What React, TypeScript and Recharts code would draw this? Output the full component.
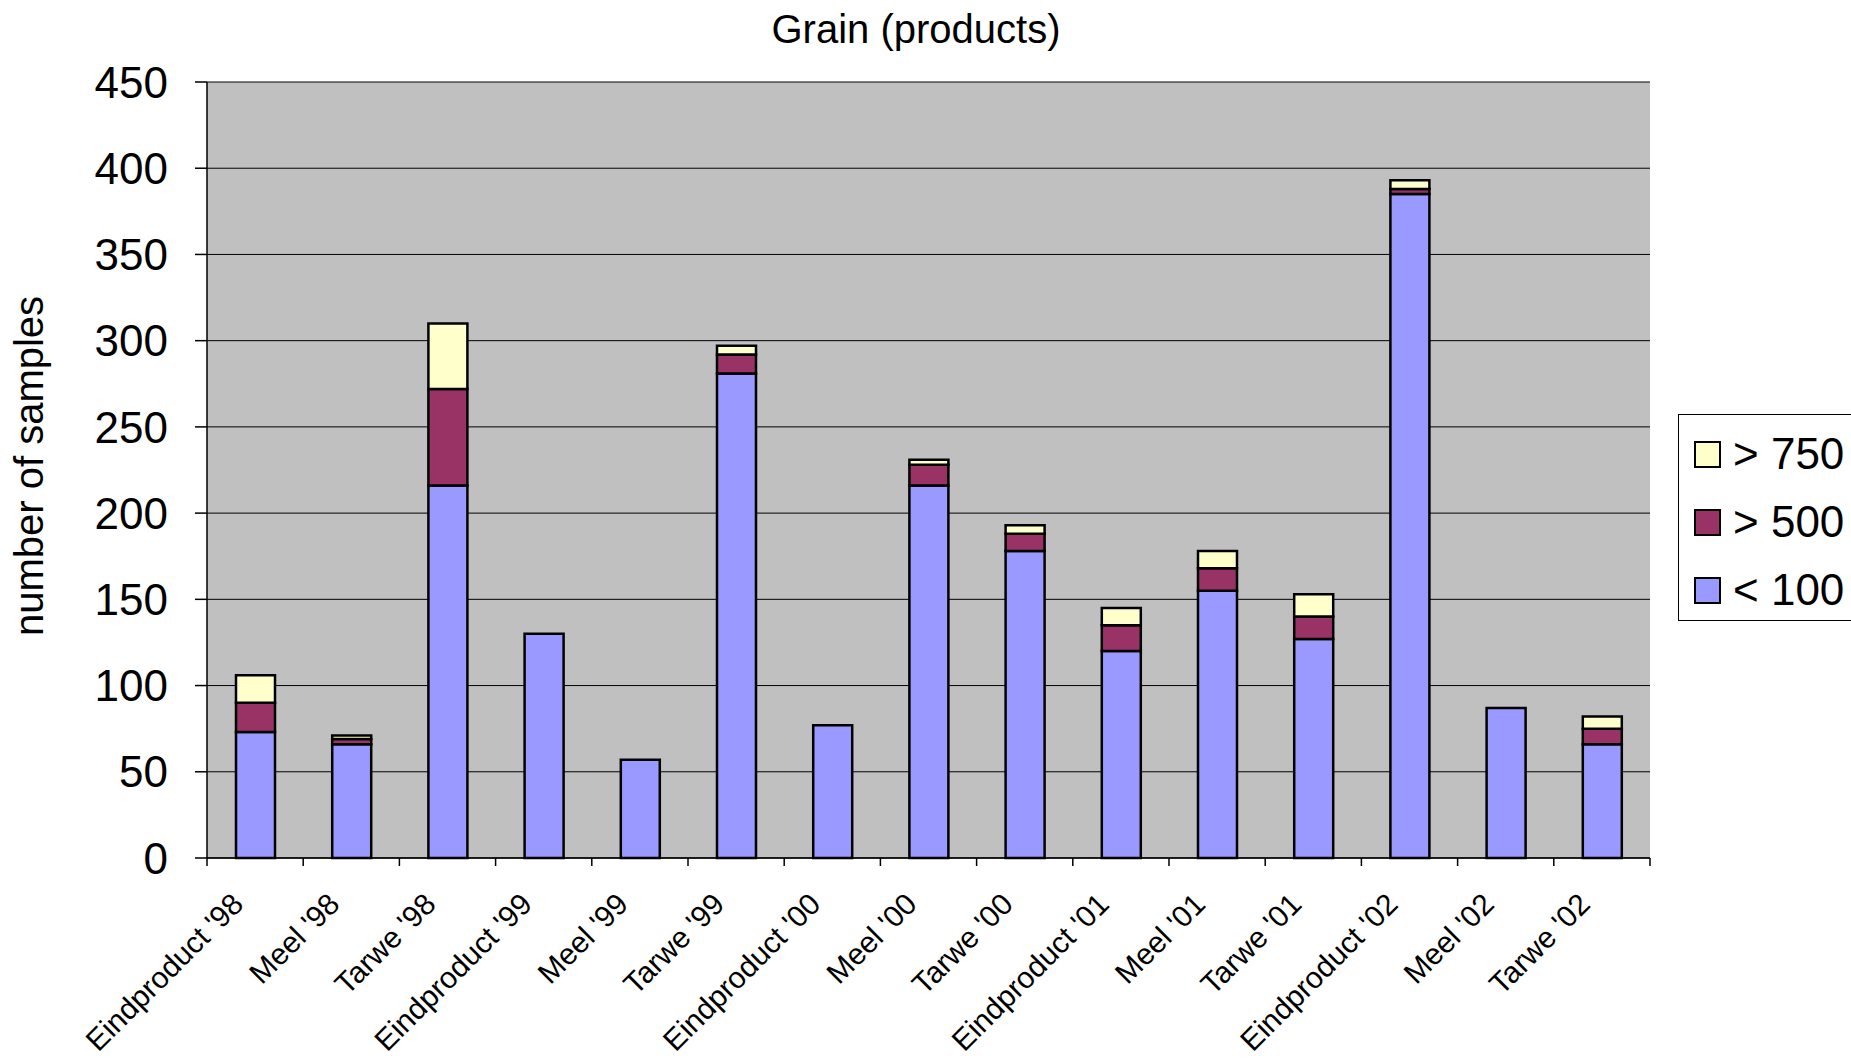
import React from 'react'
import { BarChart, Bar, XAxis, YAxis, CartesianGrid, Legend } from 'recharts'

// Grain (products): samples per product/year, stacked by class
const categories = [
  "Eindproduct '98", "Meel '98", "Tarwe '98",
  "Eindproduct '99", "Meel '99", "Tarwe '99",
  "Eindproduct '00", "Meel '00", "Tarwe '00",
  "Eindproduct '01", "Meel '01", "Tarwe '01",
  "Eindproduct '02", "Meel '02", "Tarwe '02",
]
const below100 = [73, 66, 216, 130, 57, 281, 77, 216, 178, 120, 155, 127, 385, 87, 66]
const above500 = [17, 3, 56, 0, 0, 11, 0, 12, 10, 15, 13, 13, 3, 0, 9]
const above750 = [16, 2, 38, 0, 0, 5, 0, 3, 5, 10, 10, 13, 5, 0, 7]
const yTicks = [0, 50, 100, 150, 200, 250, 300, 350, 400, 450]

const data = categories.map((name, i) => ({
  name,
  lt100: below100[i],
  gt500: above500[i],
  gt750: above750[i],
}))

const FONT = 'Arial, "Liberation Sans", sans-serif'
const BLUE = '#9999FF'
const MAROON = '#993366'
const YELLOW = '#FFFFCC'

const W = 1851
const H = 1058
const PLOT_LEFT = 207
const PLOT_RIGHT = 1650
const band = (PLOT_RIGHT - PLOT_LEFT) / categories.length

// category labels sit at 45deg; tick marks go on the category boundaries
function CategoryTick(props: any) {
  const { x, y, payload } = props
  const i = categories.indexOf(payload.value)
  const left = x - band / 2
  return (
    <g>
      <line x1={left} y1={y - 8} x2={left} y2={y} stroke="#000" strokeWidth={1.5} />
      {i === categories.length - 1 && (
        <line x1={x + band / 2} y1={y - 8} x2={x + band / 2} y2={y} stroke="#000" strokeWidth={1.5} />
      )}
      <text
        transform={`translate(${x - 10},${y + 40}) rotate(-45)`}
        textAnchor="end"
        fontSize={30}
        fontFamily={FONT}
        fill="#000"
      >
        {payload.value}
      </text>
    </g>
  )
}

function LegendBox(props: any) {
  const items = [...(props.payload || [])].reverse()
  return (
    <div
      style={{
        boxSizing: 'border-box',
        width: 200,
        height: 207,
        border: '1px solid #000',
        background: '#fff',
        paddingTop: 5,
        fontFamily: FONT,
        textAlign: 'left',
      }}
    >
      {items.map((it: any) => (
        <div key={it.value} style={{ height: 68, display: 'flex', alignItems: 'center', paddingLeft: 15 }}>
          <span
            style={{
              boxSizing: 'border-box',
              width: 27,
              height: 27,
              background: it.color,
              border: '2px solid #000',
              marginRight: 12,
            }}
          />
          <span style={{ fontSize: 44, lineHeight: 1, color: '#000' }}>{it.value}</span>
        </div>
      ))}
    </div>
  )
}

export default function App() {
  return (
    <div style={{ position: 'fixed', left: 0, top: 0, width: W, height: H, overflow: 'hidden', background: '#fff' }}>
      <div
        style={{
          position: 'absolute',
          left: 0,
          width: 1832,
          top: 9,
          textAlign: 'center',
          fontFamily: FONT,
          fontSize: 40,
          lineHeight: 1,
          color: '#000',
        }}
      >
        Grain (products)
      </div>
      <div
        style={{
          position: 'absolute',
          left: 29,
          top: 466,
          transform: 'translate(-50%, -50%) rotate(-90deg)',
          whiteSpace: 'nowrap',
          fontFamily: FONT,
          fontSize: 40,
          lineHeight: 1,
          color: '#000',
        }}
      >
        number of samples
      </div>
      <BarChart
        width={W}
        height={H}
        data={data}
        margin={{ top: 82, right: W - PLOT_RIGHT, bottom: 140, left: 0 }}
        barSize={39}
      >
        <CartesianGrid vertical={false} stroke="#000" strokeWidth={1} fill="#C0C0C0" />
        <XAxis
          dataKey="name"
          interval={0}
          height={60}
          tickLine={false}
          tickSize={8}
          tickMargin={0}
          axisLine={{ stroke: '#000', strokeWidth: 1.5 }}
          tick={<CategoryTick />}
        />
        <XAxis xAxisId="top" orientation="top" height={0} tick={false} tickLine={false} axisLine={{ stroke: '#808080', strokeWidth: 2 }} />
        <YAxis
          width={PLOT_LEFT}
          domain={[0, 450]}
          ticks={yTicks}
          interval={0}
          tickSize={12}
          tickMargin={27}
          tickLine={{ stroke: '#000', strokeWidth: 1.5 }}
          axisLine={{ stroke: '#000', strokeWidth: 1.5 }}
          tick={{ fontSize: 44, fontFamily: FONT, fill: '#000' }}
        />
        <YAxis yAxisId="right" orientation="right" width={0} domain={[0, 450]} tick={false} tickLine={false} axisLine={{ stroke: '#808080', strokeWidth: 2 }} />
        <Legend
          layout="vertical"
          align="center"
          verticalAlign="middle"
          content={<LegendBox />}
          wrapperStyle={{ position: 'absolute', left: 1678, top: 414, width: 200, height: 207 }}
        />
        <Bar dataKey="lt100" name="< 100" stackId="s" fill={BLUE} stroke="#000" strokeWidth={2.5} isAnimationActive={false} />
        <Bar dataKey="gt500" name="> 500" stackId="s" fill={MAROON} stroke="#000" strokeWidth={2.5} isAnimationActive={false} />
        <Bar dataKey="gt750" name="> 750" stackId="s" fill={YELLOW} stroke="#000" strokeWidth={2.5} isAnimationActive={false} />
      </BarChart>
    </div>
  )
}
